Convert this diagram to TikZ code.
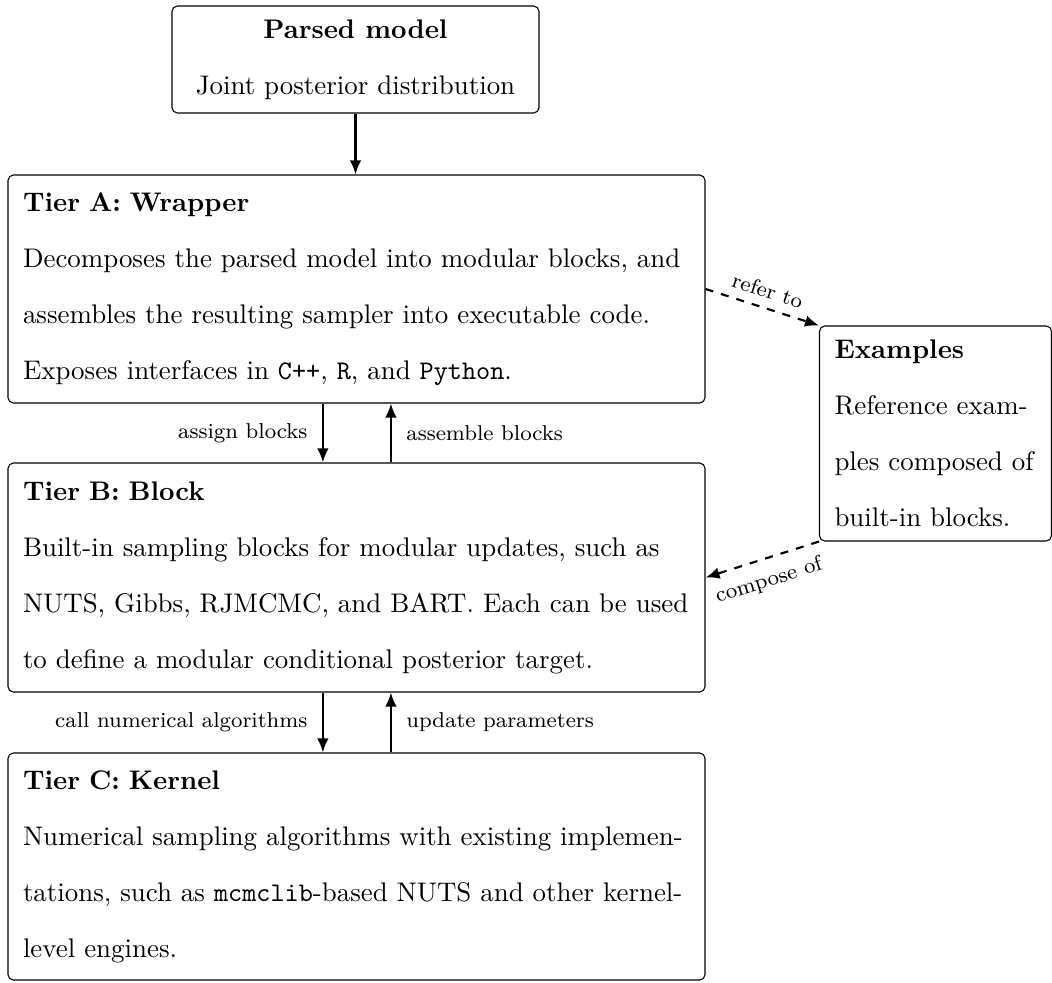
\documentclass[tikz,border=0pt]{standalone}
\usetikzlibrary{arrows.meta}
\begin{document}
\begin{tikzpicture}[x=0.3717pt,y=-0.3717pt,
  box/.style={draw=black, line width=0.4pt, rounded corners=2pt, inner ysep=0pt,
    font=\fontsize{10pt}{20.8pt}\selectfont},
  tier/.style={box, text width=247.92pt, inner xsep=5.58pt, align=left},
  arr/.style={-{Latex[length=5.2pt,width=4.3pt]}, line width=0.8pt},
  darr/.style={arr, dashed},
  lab/.style={font=\footnotesize}]
\useasboundingbox (0,0) rectangle (1052,982);

\node[box, align=center, minimum width=136.41pt, minimum height=39.77pt] (P) at (355.5,59.5)
  {\textbf{Parsed model}\\Joint posterior distribution};

\node[tier, minimum height=84.75pt] (A) at (356.5,289)
  {\textbf{Tier A: Wrapper}\\
   Decomposes the parsed model into modular blocks, and\\
   assembles the resulting sampler into executable code.\\
   Exposes interfaces in \texttt{C++}, \texttt{R}, and \texttt{Python}.};

\node[tier, minimum height=85.12pt] (B) at (356.5,577.5)
  {\textbf{Tier B: Block}\\
   Built-in sampling blocks for modular updates, such as\\
   NUTS, Gibbs, RJMCMC, and BART. Each can be used\\
   to define a modular conditional posterior target.};

\node[tier, minimum height=84.38pt] (C) at (356.5,866.5)
  {\textbf{Tier C: Kernel}\\
   Numerical sampling algorithms with existing implemen-\\
   tations, such as \texttt{mcmclib}-based NUTS and other kernel-\\
   level engines.};

\node[box, text width=75.08pt, inner xsep=5.58pt, align=left, minimum height=79.92pt] (E) at (935.5,433.5)
  {\textbf{Examples}\\
   Reference exam-\\
   ples composed of\\
   built-in blocks.};

\draw[arr] (P.south) -- (P.south |- A.north);
\draw[arr] ([xshift=-12.5pt]A.south) -- node[lab, left=2pt] {assign blocks} ([xshift=-12.5pt]B.north);
\draw[arr] ([xshift=12.8pt]B.north) -- node[lab, right=2pt] {assemble blocks} ([xshift=12.8pt]A.south);
\draw[arr] ([xshift=-12.5pt]B.south) -- node[lab, left=2pt] {call numerical algorithms} ([xshift=-12.5pt]C.north);
\draw[arr] ([xshift=12.8pt]C.north) -- node[lab, right=2pt] {update parameters} ([xshift=12.8pt]B.south);
\draw[darr] (A.east) -- node[lab, above, sloped] {refer to} (E.north west);
\draw[darr] (E.south west) -- node[lab, below=1pt, sloped] {compose of} (B.east);
\end{tikzpicture}
\end{document}
